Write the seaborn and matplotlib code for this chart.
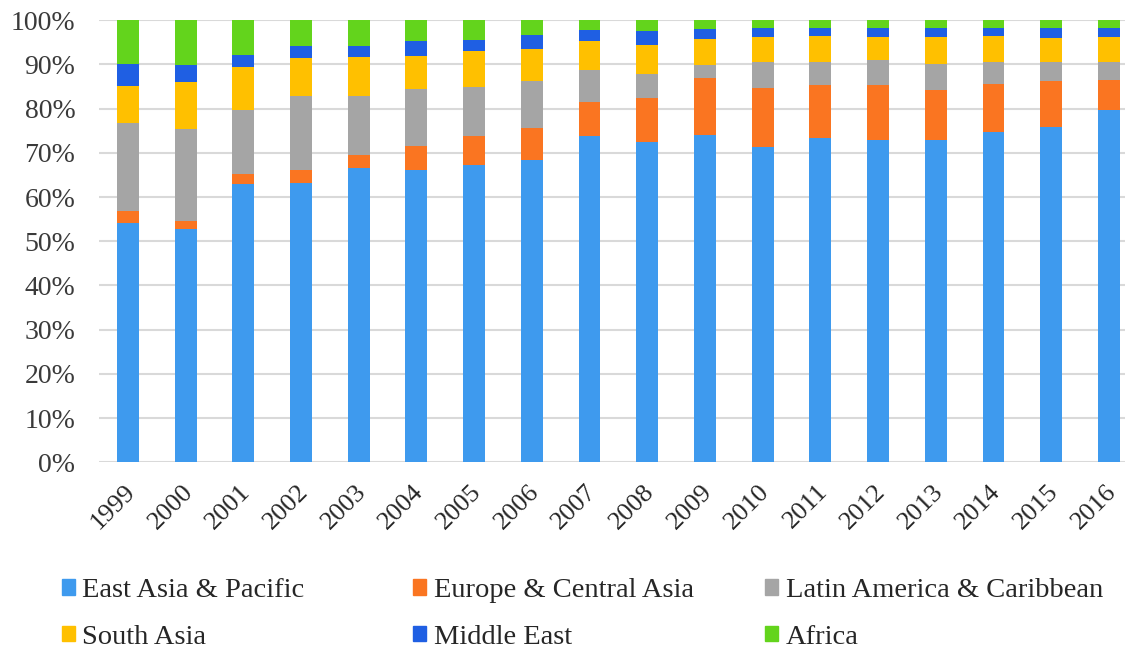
import matplotlib
matplotlib.use("Agg")
import matplotlib.pyplot as plt
import matplotlib.transforms as mtrans
from matplotlib import font_manager as fm
import seaborn as sns
import numpy as np
import pandas as pd

# share of each region per year, percent
years = ['1999', '2000', '2001', '2002', '2003', '2004', '2005', '2006', '2007',
         '2008', '2009', '2010', '2011', '2012', '2013', '2014', '2015', '2016']
east_asia = [54.2, 52.7, 62.9, 63.2, 66.5, 66.2, 67.2, 68.3, 73.8,
             72.5, 74.1, 71.3, 73.4, 72.8, 72.8, 74.8, 75.8, 79.8]
europe_ca = [2.6, 1.8, 2.4, 3.0, 3.1, 5.3, 6.6, 7.3, 7.8,
             9.9, 12.9, 13.3, 12.0, 12.6, 11.5, 10.7, 10.5, 6.7]
latin_am = [20.0, 20.9, 14.5, 16.7, 13.3, 13.0, 11.2, 10.7, 7.1,
            5.4, 2.9, 6.0, 5.2, 5.6, 5.9, 5.1, 4.3, 4.2]
south_asia = [8.4, 10.6, 9.7, 8.6, 8.8, 7.5, 8.0, 7.3, 6.6,
              6.5, 5.8, 5.5, 5.9, 5.1, 5.9, 5.9, 5.3, 5.5]
middle_east = [5.0, 3.8, 2.7, 2.6, 2.4, 3.2, 2.5, 3.1, 2.5,
               3.2, 2.3, 2.2, 1.8, 2.2, 2.2, 1.8, 2.4, 2.2]
africa = [9.8, 10.2, 7.8, 5.9, 5.9, 4.8, 4.5, 3.3, 2.2,
          2.5, 2.0, 1.7, 1.7, 1.7, 1.7, 1.7, 1.7, 1.7]

regions = ['East Asia & Pacific', 'Europe & Central Asia', 'Latin America & Caribbean',
           'South Asia', 'Middle East', 'Africa']
colors = ['#3E9AEE', '#FA7521', '#A5A5A5', '#FFC000', '#1F5FE3', '#63D41C']

df = pd.DataFrame({'year': years, regions[0]: east_asia, regions[1]: europe_ca,
                   regions[2]: latin_am, regions[3]: south_asia,
                   regions[4]: middle_east, regions[5]: africa})
vals = df[regions]
vals = vals.div(vals.sum(axis=1), axis=0) * 100
cum = vals.cumsum(axis=1)

sns.set_style('white')
plt.rcParams['font.family'] = ['Liberation Serif', 'DejaVu Serif']
serif_file = fm.findfont('Liberation Serif')
ytick_font = fm.FontProperties(fname=serif_file, size=20)
xtick_font = fm.FontProperties(fname=serif_file, size=19)
legend_font = fm.FontProperties(fname=serif_file, size=20.5)

fig = plt.figure(figsize=(11.29, 6.53), dpi=100)
ax = fig.add_axes([0.0877, 0.292, 0.9088, 0.677])

# draw cumulative bars from the top layer down so each layer covers the next
for i in range(len(regions) - 1, -1, -1):
    sns.barplot(x=df['year'], y=cum[regions[i]], color=colors[i], width=0.38,
                saturation=1, linewidth=0, ax=ax, zorder=3)

ax.set_ylim(0, 100)
ax.set_xlim(-0.5, 17.28)
ax.set_yticks(np.arange(0, 101, 10))
ax.set_yticklabels([f'{v}%' for v in range(0, 101, 10)])
ax.yaxis.grid(True, color='#D9D9D9', linewidth=1.5, zorder=0)
ax.set_axisbelow(True)
for s in ax.spines.values():
    s.set_visible(False)
ax.set_xlabel('')
ax.set_ylabel('')
ax.tick_params(axis='both', length=0)
ax.tick_params(axis='y', colors='#3a3a3a', pad=17)
ax.tick_params(axis='x', colors='#262626', pad=13)
for lbl in ax.get_yticklabels():
    lbl.set_fontproperties(ytick_font)
shift = mtrans.ScaledTranslation(-4 / 100, 0, fig.dpi_scale_trans)
for lbl in ax.get_xticklabels():
    lbl.set_fontproperties(xtick_font)
    lbl.set_rotation(45)
    lbl.set_ha('right')
    lbl.set_rotation_mode('anchor')
    lbl.set_transform(lbl.get_transform() + shift)

# legend: three columns placed at the reference positions
handles = [plt.Rectangle((0, 0), 1, 1, color=c) for c in colors]
cols = [(0, 3, 62), (1, 4, 413), (2, 5, 765)]
for a, b, xpx in cols:
    fig.legend([handles[a], handles[b]], [regions[a], regions[b]],
               loc='upper left', bbox_to_anchor=(xpx / 1129, 1 - 578 / 653),
               frameon=False, borderpad=0, borderaxespad=0, prop=legend_font,
               handlelength=0.47, handleheight=0.47,
               handletextpad=0.25, labelspacing=0.76, labelcolor='#262626')

fig.savefig('out.png', dpi=100)
